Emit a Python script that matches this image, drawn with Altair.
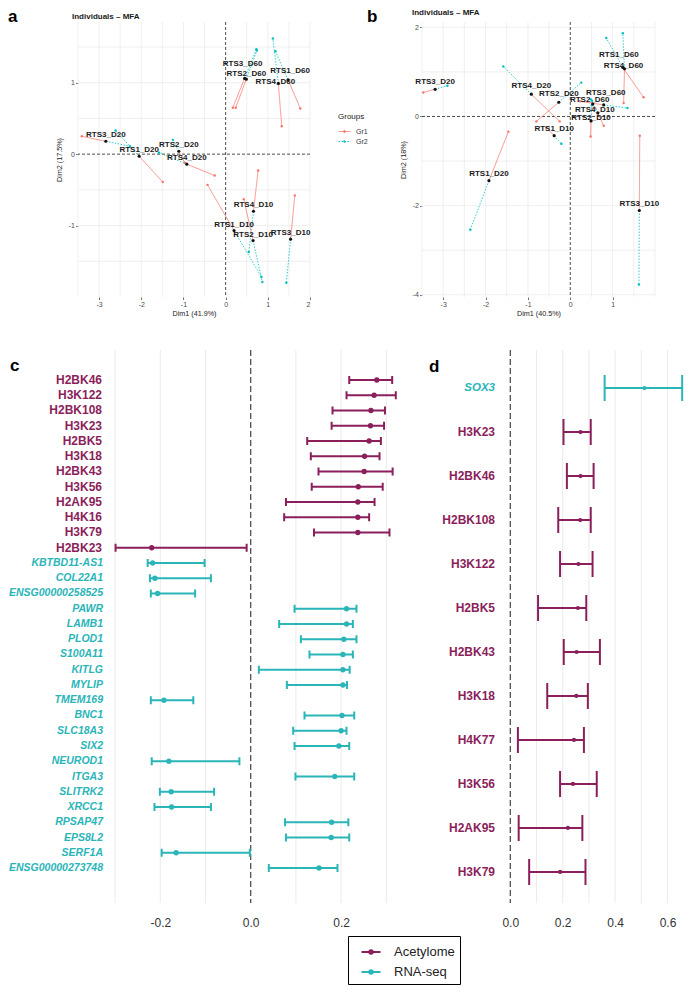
import altair as alt
import pandas as pd

FONT = "Liberation Sans"
GR_COLORS = ["#F8766D", "#00BFC4"]
SRC_COLORS = ["#8b1f5b", "#2ab5b8"]

# ---------------- panel a : Individuals - MFA ----------------
a_ind = ["RTS3_D20", "RTS1_D20", "RTS2_D20", "RTS4_D20", "RTS1_D10", "RTS4_D10",
         "RTS2_D10", "RTS3_D10", "RTS3_D60", "RTS2_D60", "RTS4_D60", "RTS1_D60"]
a_cx = [-2.84, -2.05, -1.11, -0.92, 0.20, 0.66, 0.65, 1.54, 0.45, 0.49, 1.25, 1.48]
a_cy = [0.18, -0.03, 0.04, -0.14, -1.07, -0.80, -1.21, -1.19, 1.06, 1.05, 0.99, 1.04]
a_gr1_x = [-3.41, -1.49, -0.97, -0.26, -0.43, 0.77, 0.43, 1.64, 0.17, 0.24, 1.33, 1.77]
a_gr1_y = [0.25, -0.39, -0.12, -0.30, -0.43, -0.23, -0.63, -0.58, 0.65, 0.65, 0.39, 0.64]
a_gr2_x = [-2.27, -2.61, -1.25, -1.58, 0.85, 0.55, 0.87, 1.44, 0.73, 0.74, 1.12, 1.18]
a_gr2_y = [0.11, 0.33, 0.20, 0.02, -1.72, -1.37, -1.79, -1.80, 1.47, 1.45, 1.62, 1.44]

# ---------------- panel b : Individuals - MFA ----------------
b_ind = ["RTS3_D20", "RTS1_D20", "RTS4_D20", "RTS2_D20", "RTS1_D10", "RTS3_D10",
         "RTS1_D60", "RTS4_D60", "RTS3_D60", "RTS2_D60", "RTS4_D10", "RTS2_D10"]
b_cx = [-3.19, -1.92, -0.92, -0.27, -0.38, 1.63, 1.24, 1.28, 0.79, 0.53, 0.65, 0.49]
b_cy = [0.61, -1.44, 0.50, 0.32, -0.43, -2.11, 1.10, 1.07, 0.26, 0.28, 0.08, -0.10]
b_gr1_x = [-3.47, -1.46, -0.25, -0.80, -0.56, 1.64, 1.73, 1.26, 0.23, 0.59, 0.79, 0.48]
b_gr1_y = [0.54, -0.34, -0.11, -0.11, -0.25, -0.43, 0.43, 0.30, 0.34, 0.18, -0.21, -0.45]
b_gr2_x = [-2.90, -2.36, -1.58, 0.26, -0.21, 1.62, 0.85, 1.24, 1.35, 0.48, 0.51, 0.51]
b_gr2_y = [0.69, -2.54, 1.12, 0.76, -0.61, -3.77, 1.76, 1.87, 0.19, 0.39, 0.36, 0.25]

# ---------------- panel c : forest plot ----------------
c_labels = ["H2BK46", "H3K122", "H2BK108", "H3K23", "H2BK5", "H3K18", "H2BK43", "H3K56",
            "H2AK95", "H4K16", "H3K79", "H2BK23",
            "KBTBD11-AS1", "COL22A1", "ENSG00000258525", "PAWR", "LAMB1", "PLOD1", "S100A11",
            "KITLG", "MYLIP", "TMEM169", "BNC1", "SLC18A3", "SIX2", "NEUROD1", "ITGA3",
            "SLITRK2", "XRCC1", "RPSAP47", "EPS8L2", "SERF1A", "ENSG00000273748"]
c_source = ["Acetylome"] * 12 + ["RNA-seq"] * 21
c_est = [0.279, 0.273, 0.266, 0.265, 0.262, 0.252, 0.251, 0.238, 0.237, 0.237, 0.237, -0.219,
         -0.217, -0.212, -0.206, 0.212, 0.212, 0.206, 0.204, 0.204, 0.204, -0.192, 0.202,
         0.200, 0.195, -0.181, 0.186, -0.176, -0.175, 0.179, 0.178, -0.165, 0.151]
c_lo = [0.218, 0.212, 0.181, 0.179, 0.125, 0.133, 0.150, 0.135, 0.078, 0.074, 0.140, -0.299,
        -0.228, -0.223, -0.221, 0.097, 0.063, 0.111, 0.130, 0.018, 0.080, -0.221, 0.119,
        0.094, 0.097, -0.219, 0.099, -0.201, -0.213, 0.076, 0.078, -0.197, 0.040]
c_hi = [0.313, 0.321, 0.297, 0.295, 0.288, 0.285, 0.314, 0.292, 0.274, 0.262, 0.307, -0.009,
        -0.102, -0.088, -0.123, 0.234, 0.226, 0.234, 0.226, 0.219, 0.213, -0.127, 0.229,
        0.212, 0.218, -0.025, 0.229, -0.081, -0.088, 0.216, 0.218, -0.002, 0.192]

# ---------------- panel d : forest plot ----------------
d_labels = ["SOX3", "H3K23", "H2BK46", "H2BK108", "H3K122", "H2BK5", "H2BK43", "H3K18",
            "H4K77", "H3K56", "H2AK95", "H3K79"]
d_source = ["RNA-seq"] + ["Acetylome"] * 11
d_est = [0.512, 0.268, 0.268, 0.267, 0.260, 0.258, 0.253, 0.252, 0.243, 0.239, 0.220, 0.190]
d_lo = [0.360, 0.203, 0.216, 0.183, 0.190, 0.106, 0.204, 0.141, 0.029, 0.190, 0.032, 0.072]
d_hi = [0.656, 0.307, 0.318, 0.307, 0.314, 0.290, 0.342, 0.296, 0.281, 0.330, 0.275, 0.287]

# label nudges (pixels) for the MFA point labels
a_nudge = {"RTS3_D60": (-2, -14), "RTS2_D60": (0, -5), "RTS4_D60": (-3, -1),
           "RTS1_D60": (2, -9)}
b_nudge = {"RTS1_D60": (-4, -12), "RTS4_D60": (-1, -3), "RTS4_D20": (0, -8),
           "RTS2_D20": (0, -8), "RTS3_D60": (2, -12), "RTS2_D60": (-3, -4),
           "RTS4_D10": (-3, -3), "RTS2_D10": (0, -3)}

MINUS_FIX = "replace(datum.label, '\u2212', '-')"
A_SYM = "M-1,0L1,0M0.18,0A0.18,0.18,0,1,1,-0.18,0A0.18,0.18,0,1,1,0.18,0"
C_SYM = "M-1,0L1,0M0.17,0A0.17,0.17,0,1,1,-0.17,0A0.17,0.17,0,1,1,0.17,0"


def mfa_axis(values, title, pad):
    return alt.Axis(values=values, title=title, grid=False, domain=False, ticks=True,
                    tickSize=2.5, tickWidth=0.7, tickColor="#333333",
                    labelFontSize=7, labelColor="#4d4d4d", labelPadding=1,
                    labelExpr=MINUS_FIX, titleFontSize=7.2, titleFontWeight="normal",
                    titleColor="#1a1a1a", titlePadding=pad)


def mfa_panel(ind, cx, cy, g1x, g1y, g2x, g2y, nudge, default_nudge, xdom, ydom, w, h,
              xvals, yvals, xgrid, ygrid, xtitle, ytitle, legend, letter, letter_x,
              title_x, title_y):
    xs = alt.Scale(domain=xdom, nice=False, zero=False)
    ys = alt.Scale(domain=ydom, nice=False, zero=False)
    xa = mfa_axis(xvals, xtitle, 2)
    ya = mfa_axis(yvals, ytitle, 5)

    def X(f):
        return alt.X(f, type="quantitative", scale=xs, axis=xa)

    def Y(f):
        return alt.Y(f, type="quantitative", scale=ys, axis=ya)

    pxx = w / (xdom[1] - xdom[0])
    pxy = h / (ydom[1] - ydom[0])
    rows = []
    for i, name in enumerate(ind):
        rows.append({"ind": name, "grp": "Gr1", "cx": cx[i], "cy": cy[i], "px": g1x[i], "py": g1y[i]})
        rows.append({"ind": name, "grp": "Gr2", "cx": cx[i], "cy": cy[i], "px": g2x[i], "py": g2y[i]})
    seg = pd.DataFrame(rows)
    cen = pd.DataFrame({"ind": ind, "cx": cx, "cy": cy})
    cen["lx"] = [c + nudge.get(n, default_nudge)[0] / pxx for n, c in zip(ind, cx)]
    cen["ly"] = [c - nudge.get(n, default_nudge)[1] / pxy for n, c in zip(ind, cy)]

    gscale = alt.Scale(domain=["Gr1", "Gr2"], range=GR_COLORS)
    dscale = alt.Scale(domain=["Gr1", "Gr2"], range=[[1, 0], [1.5, 1.5]])
    if legend:
        leg = alt.Legend(title="Groups", orient="none", legendX=260, legendY=91,
                         symbolType=A_SYM, symbolSize=144, symbolStrokeWidth=0.9,
                         labelFontSize=7, labelColor="#333333", titleFontSize=8,
                         titleFontWeight="normal", titleColor="#1a1a1a", titlePadding=4,
                         labelOffset=5, rowPadding=0, padding=0)
    else:
        leg = None

    vgrid = alt.Chart(pd.DataFrame({"v": xgrid})).mark_rule(
        color="#e9e9e9", strokeWidth=0.7).encode(x=X("v"))
    hgrid = alt.Chart(pd.DataFrame({"v": ygrid})).mark_rule(
        color="#e9e9e9", strokeWidth=0.7).encode(y=Y("v"))
    vzero = alt.Chart(pd.DataFrame({"v": [0]})).mark_rule(
        color="#222222", strokeDash=[3, 2], strokeWidth=0.8).encode(x=X("v"))
    hzero = alt.Chart(pd.DataFrame({"v": [0]})).mark_rule(
        color="#222222", strokeDash=[3, 2], strokeWidth=0.8).encode(y=Y("v"))
    segs = alt.Chart(seg).mark_rule(strokeWidth=0.8).encode(
        x=X("cx"), y=Y("cy"), x2="px", y2="py",
        stroke=alt.Stroke("grp:N", scale=gscale, legend=leg),
        strokeDash=alt.StrokeDash("grp:N", scale=dscale, legend=leg))
    dots = alt.Chart(seg).mark_circle(size=6, opacity=1).encode(
        x=X("px"), y=Y("py"), color=alt.Color("grp:N", scale=gscale, legend=None))
    cdots = alt.Chart(cen).mark_circle(size=10, opacity=1, color="#111111").encode(
        x=X("cx"), y=Y("cy"))
    labels = alt.Chart(cen).mark_text(fontSize=8, fontWeight="bold", color="#1a1a1a").encode(
        x=X("lx"), y=Y("ly"), text="ind:N")
    ttl = alt.Chart(pd.DataFrame({"t": ["Individuals \u2013 MFA"]})).mark_text(
        align="left", baseline="middle", fontSize=8, fontWeight="bold", color="#1a1a1a").encode(
        x=alt.value(title_x), y=alt.value(title_y), text="t:N")
    let = alt.Chart(pd.DataFrame({"t": [letter]})).mark_text(
        align="left", baseline="top", fontSize=17, fontWeight="bold", color="black").encode(
        x=alt.value(letter_x), y=alt.value(-13), text="t:N")
    return alt.layer(vgrid, hgrid, vzero, hzero, segs, dots, cdots, labels, ttl, let).properties(
        width=w, height=h)


def forest_panel(labels, source, est, lo, hi, xdom, ydom, w, h, xvals, gridvals,
                 lab_x_ac, lab_x_rna, fs_ac, fs_rna, cap, ptsize, legend, letter,
                 letter_x, letter_y):
    df = pd.DataFrame({"lab": labels, "src": source, "est": est, "lo": lo, "hi": hi,
                       "r": list(range(len(labels)))})
    xs = alt.Scale(domain=xdom, nice=False, zero=False)
    ys = alt.Scale(domain=ydom, nice=False, zero=False, reverse=True)
    xa = alt.Axis(values=xvals, format=".1f", labelExpr=MINUS_FIX, grid=False, ticks=False,
                  tickSize=0, domain=False, labelFontSize=12, labelColor="#333333",
                  labelPadding=14, title=None)

    def X(f):
        return alt.X(f, type="quantitative", scale=xs, axis=xa)

    def Y(f):
        return alt.Y(f, type="quantitative", scale=ys, axis=None)

    sscale = alt.Scale(domain=["Acetylome", "RNA-seq"], range=SRC_COLORS)
    if legend:
        leg = alt.Legend(title=None, orient="none", legendX=270, legendY=586,
                         symbolType=C_SYM, symbolSize=361, symbolStrokeWidth=2.2,
                         labelFontSize=13, labelColor="#222222", padding=5, rowPadding=2,
                         symbolOffset=7, labelOffset=12, strokeColor="black")
    else:
        leg = None
    base = alt.Chart(df)
    grid = alt.Chart(pd.DataFrame({"v": gridvals})).mark_rule(
        color="#ebebeb", strokeWidth=1).encode(x=X("v"))
    zero = alt.Chart(pd.DataFrame({"v": [0]})).mark_rule(
        color="#444444", strokeDash=[6, 3], strokeWidth=1.2).encode(x=X("v"))
    whisk = base.mark_rule(strokeWidth=2).encode(
        x=X("lo"), x2="hi", y=Y("r"), color=alt.Color("src:N", scale=sscale, legend=leg))
    cap_lo = base.mark_tick(orient="vertical", size=cap, thickness=2, opacity=1).encode(
        x=X("lo"), y=Y("r"), color=alt.Color("src:N", scale=sscale, legend=None))
    cap_hi = base.mark_tick(orient="vertical", size=cap, thickness=2, opacity=1).encode(
        x=X("hi"), y=Y("r"), color=alt.Color("src:N", scale=sscale, legend=None))
    pts = base.mark_circle(size=ptsize, opacity=1).encode(
        x=X("est"), y=Y("r"), color=alt.Color("src:N", scale=sscale, legend=None))
    lab_ac = base.transform_filter(alt.datum.src == "Acetylome").mark_text(
        align="right", baseline="middle", fontSize=fs_ac, fontWeight="bold",
        color=SRC_COLORS[0]).encode(x=alt.value(lab_x_ac), y=Y("r"), text="lab:N")
    lab_rna = base.transform_filter(alt.datum.src == "RNA-seq").mark_text(
        align="right", baseline="middle", fontSize=fs_rna, fontWeight="bold",
        fontStyle="italic", color=SRC_COLORS[1]).encode(
        x=alt.value(lab_x_rna), y=Y("r"), text="lab:N")
    let = alt.Chart(pd.DataFrame({"t": [letter]})).mark_text(
        align="left", baseline="alphabetic", fontSize=17, fontWeight="bold",
        color="black").encode(x=alt.value(letter_x), y=alt.value(letter_y), text="t:N")
    return alt.layer(grid, zero, whisk, cap_lo, cap_hi, pts, lab_ac, lab_rna, let).properties(
        width=w, height=h)


pa = mfa_panel(a_ind, a_cx, a_cy, a_gr1_x, a_gr1_y, a_gr2_x, a_gr2_y, a_nudge, (0, -6),
               [-3.5, 2.0], [-2.0, 1.85], 232, 275,
               [-3, -2, -1, 0, 1, 2], [-1, 0, 1],
               [-3.5, -3, -2.5, -2, -1.5, -1, -0.5, 0.5, 1, 1.5, 2],
               [-1.5, -1, -0.5, 0.5, 1, 1.5],
               "Dim1 (41.9%)", "Dim2 (17.5%)", True, "a", -70, -6, -5)

pb = mfa_panel(b_ind, b_cx, b_cy, b_gr1_x, b_gr1_y, b_gr2_x, b_gr2_y, b_nudge, (0, -7),
               [-3.5, 2.0], [-4.05, 2.12], 233, 275,
               [-3, -2, -1, 0, 1], [-4, -2, 0, 2],
               [-3.5, -3, -2.5, -2, -1.5, -1, -0.5, 0.5, 1, 1.5, 2],
               [-4, -3, -2, -1, 1, 2],
               "Dim1 (40.5%)", "Dim2 (18%)", False, "b", -55, -10, -9)

pc = forest_panel(c_labels, c_source, c_est, c_lo, c_hi, [-0.3821, 0.3303], [-1.967, 34.295],
                  322, 553, [-0.2, 0.0, 0.2], [-0.3, -0.2, -0.1, 0.1, 0.2, 0.3],
                  24, 25, 12, 10.5, 8, 28, True, "c", -68, 21)

pd_ = forest_panel(d_labels, d_source, d_est, d_lo, d_hi, [-0.337, 0.663], [-0.864, 11.705],
                   262, 553, [0.0, 0.2, 0.4, 0.6], [0.1, 0.2, 0.3, 0.4, 0.5, 0.6],
                   73, 73, 12, 11.5, 26, 18, False, "d", 7, 21.5)

chart = alt.concat(pa, pb, pc, pd_, columns=2, spacing={"row": 53, "column": 22},
                   bounds="flush").resolve_scale(
    color="independent", fill="independent", stroke="independent",
    strokeDash="independent").properties(padding=0).configure(
    font=FONT).configure_view(stroke=None)

chart.save("out.html", embed_options={"renderer": "svg", "actions": False})
